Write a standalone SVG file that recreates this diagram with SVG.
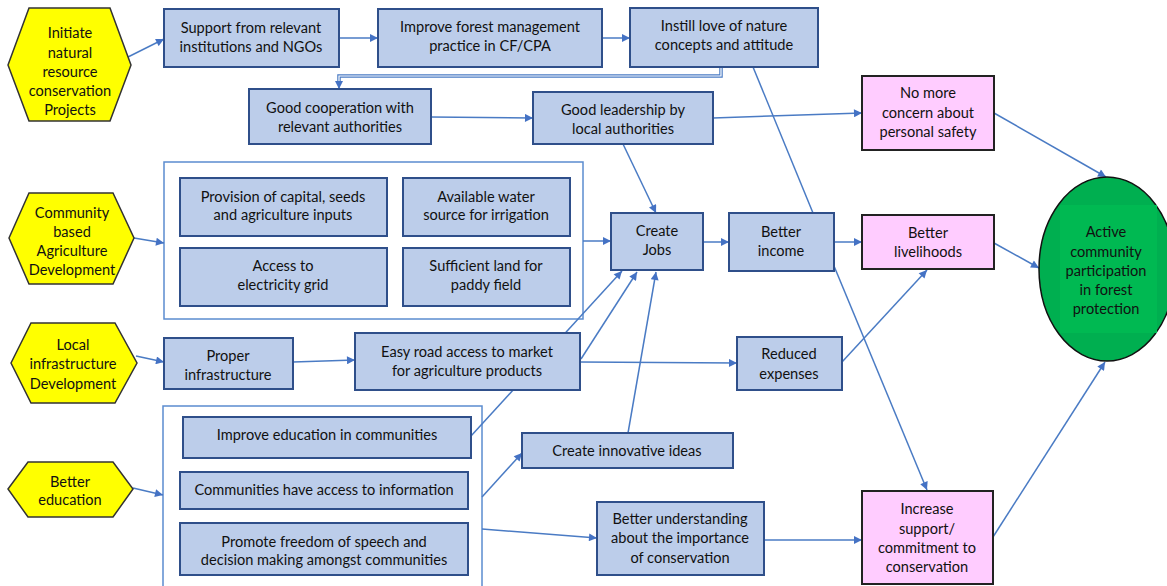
<svg xmlns="http://www.w3.org/2000/svg" width="1167" height="586" viewBox="0 0 1167 586">
<defs>
<marker id="ah" viewBox="0 0 10 10" refX="10" refY="5" markerWidth="10" markerHeight="8" orient="auto" markerUnits="userSpaceOnUse"><path d="M0,0 L10,5 L0,10 z" fill="#4472C4"/></marker>
<style>
.t{font-family:Lato,"Open Sans","Liberation Sans",sans-serif;font-size:14.6px;fill:#111;text-anchor:middle;dominant-baseline:central}
.hex{fill:#FFFF00;stroke:#333;stroke-width:1.5}
.box{fill:#BCCDEA;stroke:#2F4F8A;stroke-width:2}
.pink{fill:#FFCCFF;stroke:#222;stroke-width:2}
.cont{fill:none;stroke:#5B8CCF;stroke-width:1.5}
.c{fill:none;stroke:#4A7BC4;stroke-width:1.5}
.a{marker-end:url(#ah)}
</style>
</defs>
<rect width="1167" height="586" fill="#fff"/>
<g id="container-agriculture"><rect class="cont" x="164" y="162" width="419" height="157"/></g>
<g id="container-education"><rect class="cont" x="163" y="406" width="319" height="190"/></g>
<g id="connectors">
<line class="c a" x1="128" y1="57" x2="164" y2="39"/>
<line class="c a" x1="339" y1="38" x2="378" y2="38"/>
<line class="c a" x1="602" y1="38" x2="630" y2="38"/>
<polyline points="721,67 721,76 339,76 339,85" fill="none" stroke="#4A7BC4" stroke-width="3.5"/>
<polyline points="721,67 721,76 339,76 339,85" fill="none" stroke="#fff" stroke-width="1.2"/>
<line class="c a" x1="339" y1="84" x2="339" y2="89"/>
<line class="c a" x1="431" y1="117" x2="533" y2="118"/>
<line class="c a" x1="713" y1="118" x2="862" y2="113"/>
<line class="c" x1="753" y1="67" x2="813" y2="213"/>
<line class="c a" x1="623" y1="144" x2="656" y2="213"/>
<line class="c a" x1="134" y1="238" x2="164" y2="243"/>
<line class="c a" x1="583" y1="241" x2="611" y2="241"/>
<line class="c a" x1="703" y1="242" x2="729" y2="242"/>
<line class="c a" x1="834" y1="242" x2="862" y2="242"/>
<line class="c a" x1="994" y1="113" x2="1106" y2="177"/>
<line class="c a" x1="994" y1="243" x2="1039" y2="268"/>
<line class="c a" x1="136" y1="356" x2="164" y2="362"/>
<line class="c a" x1="293" y1="362" x2="355" y2="360"/>
<line class="c a" x1="580" y1="362" x2="737" y2="363"/>
<line class="c a" x1="471" y1="436" x2="622" y2="271"/>
<line class="c a" x1="581" y1="359" x2="637" y2="272"/>
<line class="c a" x1="628" y1="433" x2="656" y2="272"/>
<line class="c a" x1="842" y1="362" x2="927" y2="270"/>
<line class="c a" x1="834" y1="266" x2="927" y2="490"/>
<line class="c a" x1="133" y1="488" x2="163" y2="495"/>
<line class="c a" x1="482" y1="497" x2="522" y2="453"/>
<line class="c a" x1="482" y1="529" x2="597" y2="538"/>
<line class="c a" x1="764" y1="540" x2="862" y2="540"/>
<line class="c a" x1="993" y1="537" x2="1105" y2="362"/>
</g>
<g id="hex-initiate"><polygon class="hex" points="8,65 29,8 110,8 131,65 110,121 29,121"/>
<text class="t" x="70" y="32">Initiate</text><text class="t" x="70" y="52">natural</text><text class="t" x="70" y="71">resource</text><text class="t" x="70" y="90">conservation</text><text class="t" x="70" y="109">Projects</text></g>
<g id="hex-agriculture"><polygon class="hex" points="9,238 29,193 113,193 134,238 113,284 29,284"/>
<text class="t" x="72" y="212">Community</text><text class="t" x="72" y="231">based</text><text class="t" x="72" y="250">Agriculture</text><text class="t" x="72" y="269">Development</text></g>
<g id="hex-infrastructure"><polygon class="hex" points="11,363 31,323 115,323 137,363 115,403 31,403"/>
<text class="t" x="73" y="344">Local</text><text class="t" x="73" y="363">infrastructure</text><text class="t" x="73" y="383">Development</text></g>
<g id="hex-education"><polygon class="hex" points="8,489 28,462 113,462 133,489 113,517 28,517"/>
<text class="t" x="70" y="481">Better</text><text class="t" x="70" y="499">education</text></g>
<g id="support"><rect class="box" x="164" y="9" width="175" height="58"/><text class="t" x="251" y="27">Support from relevant</text><text class="t" x="251" y="46">institutions and NGOs</text></g>
<g id="improve-forest"><rect class="box" x="378" y="9" width="224" height="58"/><text class="t" x="490" y="26">Improve forest management</text><text class="t" x="490" y="45">practice in CF/CPA</text></g>
<g id="instill"><rect class="box" x="630" y="8" width="188" height="59"/><text class="t" x="724" y="25">Instill love of nature</text><text class="t" x="724" y="44">concepts and attitude</text></g>
<g id="cooperation"><rect class="box" x="249" y="89" width="182" height="55"/><text class="t" x="340" y="107">Good cooperation with</text><text class="t" x="340" y="126">relevant authorities</text></g>
<g id="leadership"><rect class="box" x="533" y="92" width="180" height="52"/><text class="t" x="623" y="109">Good leadership by</text><text class="t" x="623" y="128">local authorities</text></g>
<g id="safety"><rect class="pink" x="862" y="76" width="132" height="74"/><text class="t" x="928" y="92">No more</text><text class="t" x="928" y="112">concern about</text><text class="t" x="928" y="131">personal safety</text></g>
<g id="provision"><rect class="box" x="180" y="178" width="207" height="58"/><text class="t" x="283" y="196">Provision of capital, seeds</text><text class="t" x="283" y="214">and agriculture inputs</text></g>
<g id="water"><rect class="box" x="403" y="178" width="167" height="58"/><text class="t" x="486" y="196">Available water</text><text class="t" x="486" y="214">source for irrigation</text></g>
<g id="electricity"><rect class="box" x="180" y="248" width="207" height="58"/><text class="t" x="283" y="265">Access to</text><text class="t" x="283" y="284">electricity grid</text></g>
<g id="land"><rect class="box" x="403" y="248" width="167" height="58"/><text class="t" x="486" y="265">Sufficient land for</text><text class="t" x="486" y="284">paddy field</text></g>
<g id="jobs"><rect class="box" x="611" y="213" width="92" height="57"/><text class="t" x="657" y="230">Create</text><text class="t" x="657" y="249">Jobs</text></g>
<g id="income"><rect class="box" x="729" y="213" width="105" height="58"/><text class="t" x="781" y="231">Better</text><text class="t" x="781" y="250">income</text></g>
<g id="livelihoods"><rect class="pink" x="862" y="215" width="132" height="54"/><text class="t" x="928" y="232">Better</text><text class="t" x="928" y="251">livelihoods</text></g>
<g id="proper"><rect class="box" x="164" y="338" width="129" height="51"/><text class="t" x="228" y="355">Proper</text><text class="t" x="228" y="374">infrastructure</text></g>
<g id="road"><rect class="box" x="355" y="333" width="225" height="57"/><text class="t" x="467" y="351">Easy road access to market</text><text class="t" x="467" y="370">for agriculture products</text></g>
<g id="expenses"><rect class="box" x="737" y="337" width="105" height="53"/><text class="t" x="789" y="353">Reduced</text><text class="t" x="789" y="373">expenses</text></g>
<g id="edu-improve"><rect class="box" x="183" y="417" width="288" height="41"/><text class="t" x="327" y="434">Improve education in communities</text></g>
<g id="information"><rect class="box" x="180" y="472" width="288" height="37"/><text class="t" x="324" y="489">Communities have access to information</text></g>
<g id="freedom"><rect class="box" x="180" y="523" width="288" height="52"/><text class="t" x="324" y="541">Promote freedom of speech and</text><text class="t" x="324" y="559">decision making amongst communities</text></g>
<g id="innovative"><rect class="box" x="522" y="433" width="211" height="35"/><text class="t" x="627" y="450">Create innovative ideas</text></g>
<g id="understanding"><rect class="box" x="597" y="502" width="167" height="73"/><text class="t" x="680" y="518">Better understanding</text><text class="t" x="680" y="537">about the importance</text><text class="t" x="680" y="557">of conservation</text></g>
<g id="commitment"><rect class="pink" x="862" y="491" width="131" height="93"/><text class="t" x="927" y="508">Increase</text><text class="t" x="927" y="528">support/</text><text class="t" x="927" y="547">commitment to</text><text class="t" x="927" y="566">conservation</text></g>
<g id="participation"><ellipse cx="1107" cy="269" rx="68" ry="92" fill="#00AF50" stroke="#111" stroke-width="1.5"/>
<rect x="1060" y="205" width="97" height="128" fill="#00B952"/>
<text class="t" x="1106" y="231">Active</text><text class="t" x="1106" y="251">community</text><text class="t" x="1106" y="270">participation</text><text class="t" x="1106" y="289">in forest</text><text class="t" x="1106" y="308">protection</text></g>
</svg>
